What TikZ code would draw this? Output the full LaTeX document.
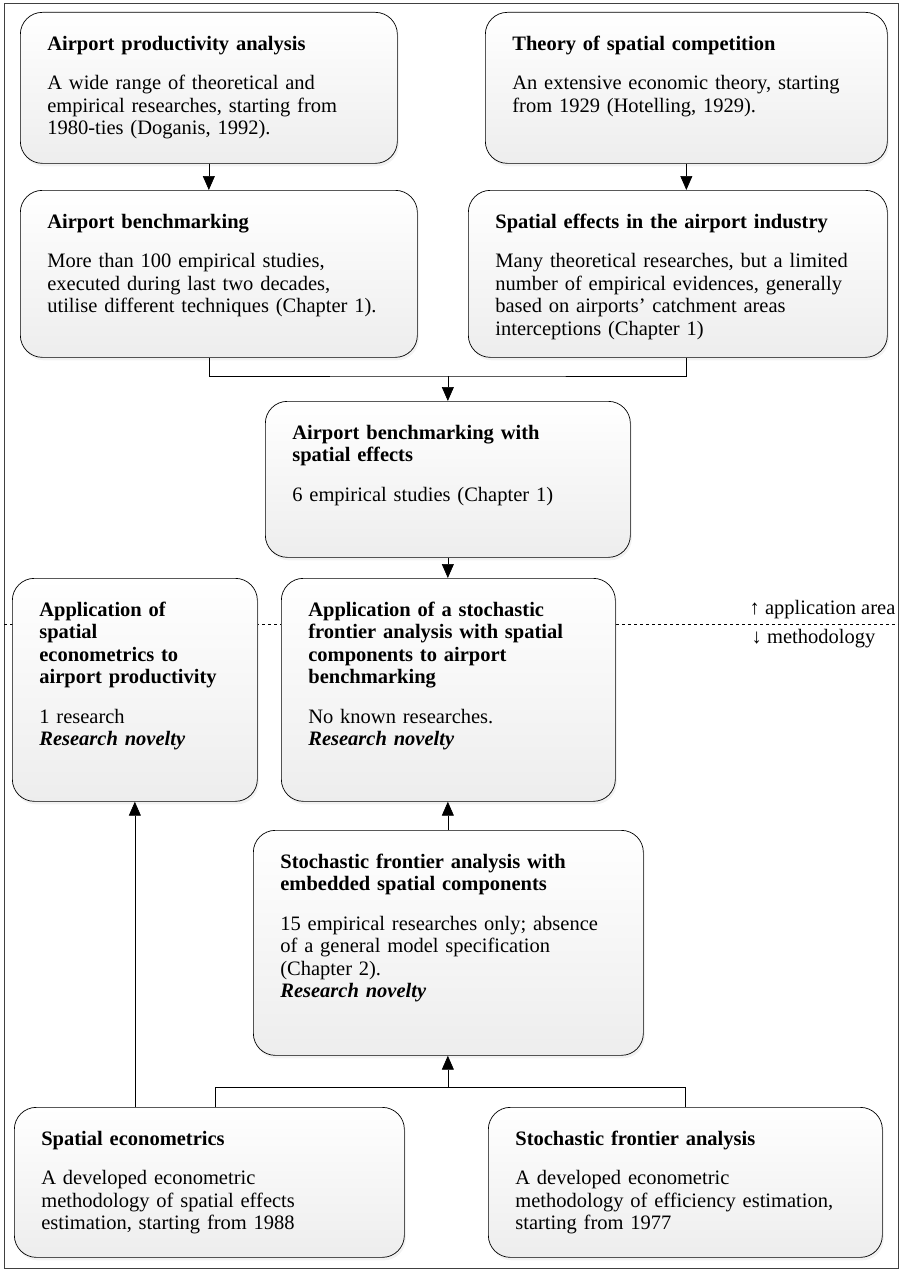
\documentclass[tikz,border=0pt]{standalone}
\usepackage{fontspec}
\setmainfont{Liberation Serif}
\usetikzlibrary{arrows.meta,shadows}

\begin{document}
\begin{tikzpicture}[x=1pt,y=-1pt,line width=0.7pt,
  block/.style={draw, rounded corners=22pt, anchor=north west, align=left,
    top color=white, bottom color=black!7, inner xsep=27pt, inner ysep=20pt,
    text height=18pt, font=\fontsize{20.5}{22.5}\selectfont,
    drop shadow={shadow xshift=1.5pt, shadow yshift=-3pt, opacity=0.1}},
  arr/.style={-{Triangle[length=14pt,width=12pt]}},
  label/.style={font=\fontsize{20.5}{22.5}\selectfont}]
\useasboundingbox (0,0) rectangle (904,1271);
\draw[line width=1pt, black!75] (4,4) rectangle (898,1268);
\coordinate (divl) at (4,624);
\coordinate (divr) at (898,624);
\draw[dashed, line width=0.6pt] (divl) -- (divr);

\node[block, text width=323pt, text depth=93pt] (prod) at (20,12) {\textbf{Airport productivity analysis}\\[17pt]
A wide range of theoretical and\\
empirical researches, starting from\\
1980-ties (Doganis, 1992).};
\node[block, text width=348pt, text depth=93pt] (theory) at (485,12) {\textbf{Theory of spatial competition}\\[17pt]
An extensive economic theory, starting\\
from 1929 (Hotelling, 1929).};
\node[block, text width=343pt, text depth=109pt] (bench) at (20,190) {\textbf{Airport benchmarking}\\[17pt]
More than 100 empirical studies,\\
executed during last two decades,\\
utilise different techniques (Chapter 1).};
\node[block, text width=365pt, text depth=109pt] (speff) at (468,190) {\textbf{Spatial effects in the airport industry}\\[17pt]
Many theoretical researches, but a limited\\
number of empirical evidences, generally\\
based on airports’ catchment areas\\
interceptions (Chapter 1)};
\node[block, text width=311pt, text depth=98pt] (benchsp) at (265,401) {\textbf{Airport benchmarking with}\\
\textbf{spatial effects}\\[17pt]
6 empirical studies (Chapter 1)};
\node[block, text width=191pt, text depth=165pt] (appsec) at (12,578) {\textbf{Application of}\\
\textbf{spatial}\\
\textbf{econometrics to}\\
\textbf{airport productivity}\\[17pt]
1 research\\
\textbf{\textit{Research novelty}}};
\node[block, text width=280pt, text depth=165pt] (appsfa) at (281,578) {\textbf{Application of a stochastic}\\
\textbf{frontier analysis with spatial}\\
\textbf{components to airport}\\
\textbf{benchmarking}\\[17pt]
No known researches.\\
\textbf{\textit{Research novelty}}};
\node[block, text width=336pt, text depth=167pt] (sfasp) at (253,830) {\textbf{Stochastic frontier analysis with}\\
\textbf{embedded spatial components}\\[17pt]
15 empirical researches only; absence\\
of a general model specification\\
(Chapter 2).\\
\textbf{\textit{Research novelty}}};
\node[block, text width=336pt, text depth=92pt] (secon) at (14,1107) {\textbf{Spatial econometrics}\\[17pt]
A developed econometric\\
methodology of spatial effects\\
estimation, starting from 1988};
\node[block, text width=340pt, text depth=92pt] (sfa) at (488,1107) {\textbf{Stochastic frontier analysis}\\[17pt]
A developed econometric\\
methodology of efficiency estimation,\\
starting from 1977};

\node[label, anchor=east] (uparea) at (899,610) {↑ application area};
\node[label, anchor=west] (downmeth) at (748,639) {↓ methodology};

\coordinate (hub1) at (benchsp.north |- 0,376);
\coordinate (hub2) at (benchsp.north |- 0,1087);
\draw[arr] (prod.south) -- (prod.south |- bench.north);
\draw[arr] (theory.south) -- (theory.south |- speff.north);
\draw (prod.south |- bench.south) |- (hub1) -| (theory.south |- speff.south);
\draw[arr] (hub1) -- (benchsp.north);
\draw[arr] (benchsp.south) -- (benchsp.south |- appsfa.north);
\draw[arr] (benchsp.south |- sfasp.north) -- (benchsp.south |- appsfa.south);
\draw ([xshift=6pt]secon.north) |- (hub2) -| (sfa.north);
\draw[arr] (hub2) -- (hub2 |- sfasp.south);
\draw[arr] (appsec.south |- secon.north) -- (appsec.south);
\end{tikzpicture}
\end{document}
